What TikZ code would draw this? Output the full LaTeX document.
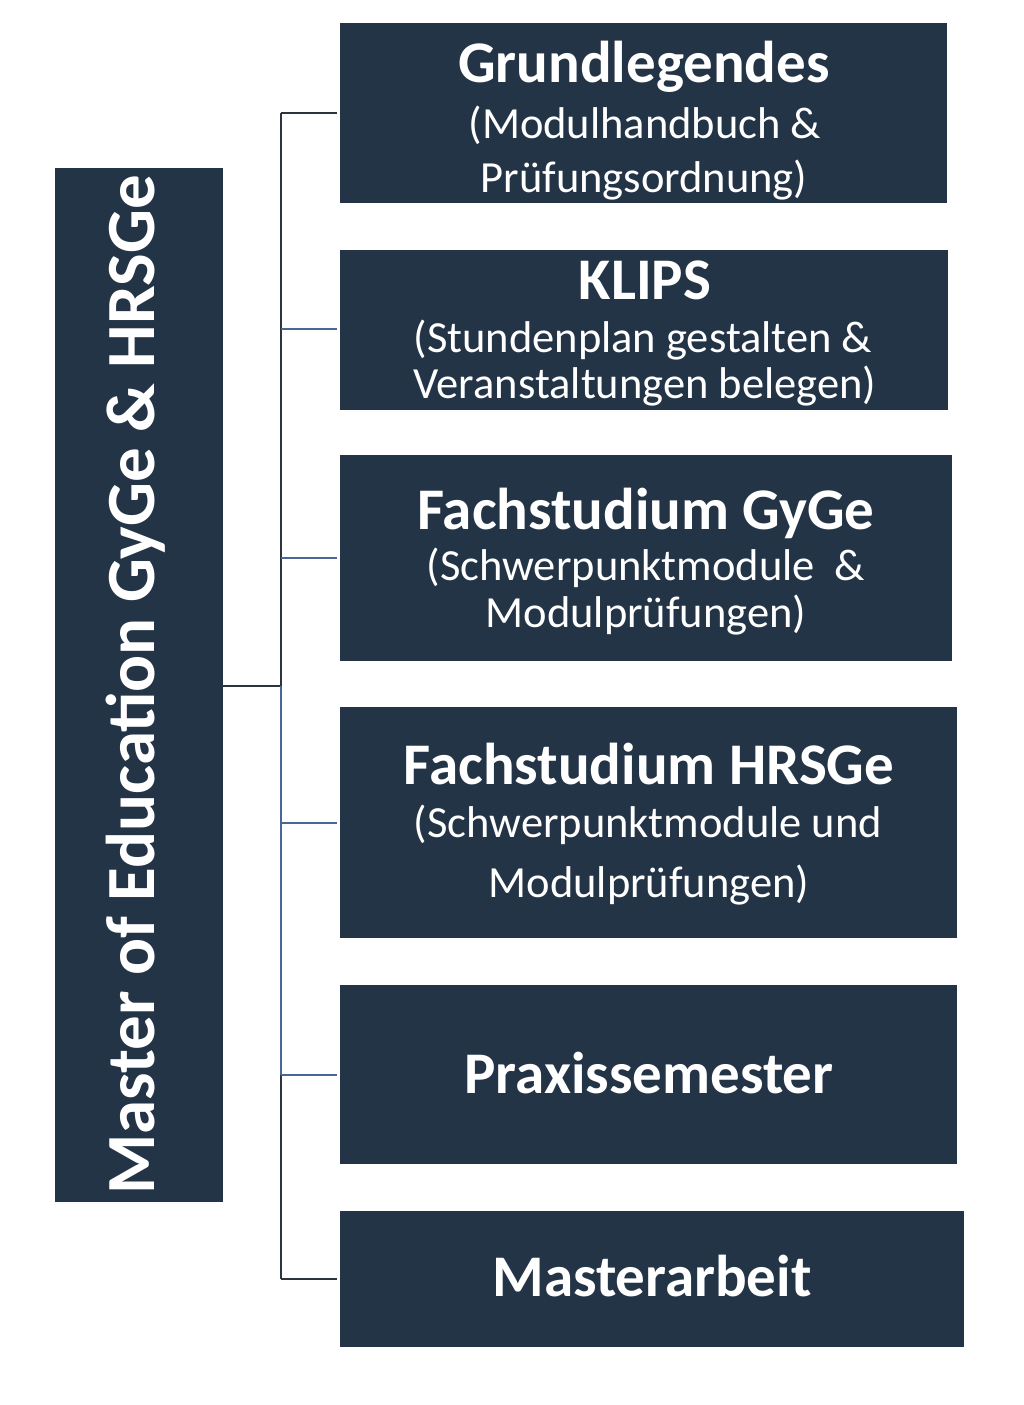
\documentclass[tikz,border=0pt]{standalone}
\usepackage{fontspec}
\setmainfont{Carlito}
\definecolor{boxfill}{RGB}{36,52,71}
\definecolor{darkline}{RGB}{44,52,64}
\definecolor{blueline}{RGB}{74,102,153}
\begin{document}
\begin{tikzpicture}[x=1pt,y=-1pt,
  box/.style={fill=boxfill,draw=none,inner sep=0pt,anchor=north west},
  ttl/.style={text=white,font=\fontsize{59}{62}\selectfont\bfseries,anchor=base,inner sep=0pt},
  sub/.style={text=white,font=\fontsize{44.5}{50}\selectfont,anchor=base,inner sep=0pt},
  conn/.style={line width=2.5pt,darkline},
  connb/.style={line width=2.5pt,blueline}]
\useasboundingbox[fill=white] (0,0) rectangle (1024,1405);
% boxes
\node[box,minimum width=168pt,minimum height=1034pt] (main) at (55,168) {};
\node[box,minimum width=607pt,minimum height=180pt] (b1) at (340,23) {};
\node[box,minimum width=608pt,minimum height=160pt] (b2) at (340,250) {};
\node[box,minimum width=612pt,minimum height=206pt] (b3) at (340,455) {};
\node[box,minimum width=617pt,minimum height=231pt] (b4) at (340,707) {};
\node[box,minimum width=617pt,minimum height=179pt] (b5) at (340,985) {};
\node[box,minimum width=624pt,minimum height=136pt] (b6) at (340,1211) {};
% left text
\node[text=white,font=\fontsize{69}{74}\selectfont\bfseries,rotate=90,inner sep=0pt] (mt) at (136,685) {Master of Education GyGe \& HRSGe};
% texts
\node[ttl] (t1) at (644,82) {Grundlegendes};
\node[sub] (s1a) at (645,138) {(Modulhandbuch \&};
\node[sub] (s1b) at (644,192) {Prüfungsordnung)};
\node[ttl] (t2) at (645,299) {KLIPS};
\node[sub] (s2a) at (643,352) {(Stundenplan gestalten \&};
\node[sub] (s2b) at (645,398) {Veranstaltungen belegen)};
\node[ttl] (t3) at (646,529) {Fachstudium GyGe};
\node[sub] (s3a) at (646,580) {(Schwerpunktmodule\ \ \&};
\node[sub] (s3b) at (646,627) {Modulprüfungen)};
\node[ttl] (t4) at (649,784) {Fachstudium HRSGe};
\node[sub] (s4a) at (648,837) {(Schwerpunktmodule und};
\node[sub] (s4b) at (649,897) {Modulprüfungen)};
\node[ttl] (t5) at (649,1093) {Praxissemester};
\node[ttl] (t6) at (652,1296) {Masterarbeit};
% connectors
\coordinate (j) at (281,686);
\coordinate (c1) at (281,113);
\coordinate (c2) at (281,329);
\coordinate (c3) at (281,558);
\coordinate (c4) at (281,823);
\coordinate (c5) at (281,1075);
\coordinate (c6) at (281,1279);
\draw[conn] (main.east |- j) -- (j);
\draw[conn] (j) -- (c1);
\draw[connb] (j) -- (c5);
\draw[conn] (c5) -- (c6);
\draw[conn] (c1) -- ([xshift=-3pt]b1.west |- c1);
\draw[connb] (c2) -- ([xshift=-3pt]b2.west |- c2);
\draw[connb] (c3) -- ([xshift=-3pt]b3.west |- c3);
\draw[connb] (c4) -- ([xshift=-3pt]b4.west |- c4);
\draw[connb] (c5) -- ([xshift=-3pt]b5.west |- c5);
\draw[conn] (c6) -- ([xshift=-3pt]b6.west |- c6);
\end{tikzpicture}
\end{document}
